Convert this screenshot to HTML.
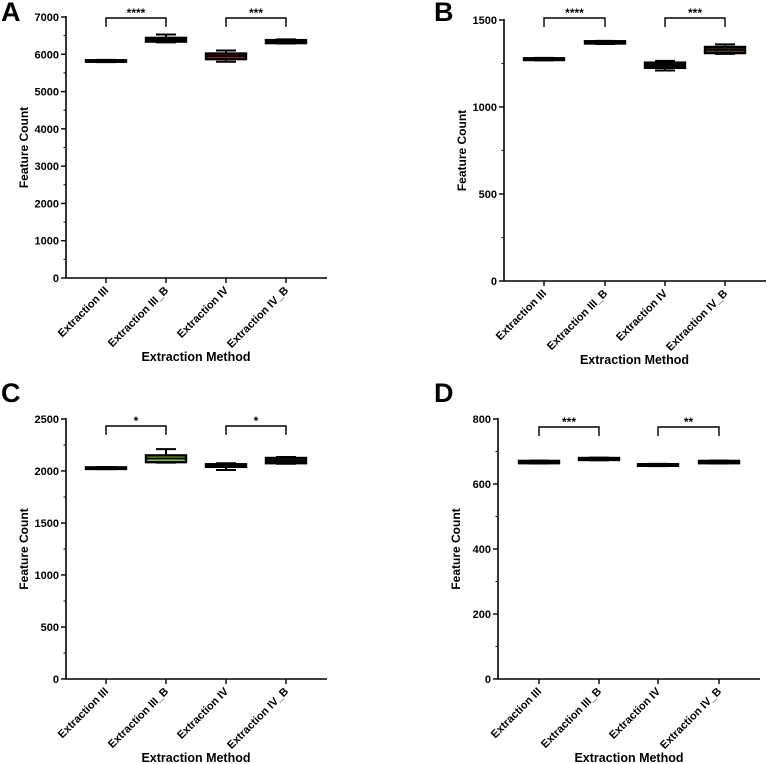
<!DOCTYPE html>
<html><head><meta charset="utf-8">
<style>
body{margin:0;background:#fff;}
svg{display:block;font-family:"Liberation Sans",Arial,sans-serif;font-weight:bold;}
</style></head>
<body>
<svg id="chart" width="767" height="764" viewBox="0 0 767 764"></svg>
<script>
const categories = ["Extraction III","Extraction III_B","Extraction IV","Extraction IV_B"];
// Panel A
const aMin=[5790,6320,5800,6290], aQ1=[5800,6340,5870,6300], aMed=[5820,6390,5950,6340], aQ3=[5840,6440,6020,6380], aMax=[5850,6530,6100,6400];
const aTicks=[0,1000,2000,3000,4000,5000,6000,7000];
const aSig=["****","***"];
// Panel B
const bMin=[1268,1362,1210,1305], bQ1=[1270,1365,1225,1310], bMed=[1275,1370,1240,1330], bQ3=[1280,1378,1255,1345], bMax=[1282,1380,1265,1360];
const bTicks=[0,500,1000,1500];
const bSig=["****","***"];
// Panel C
const cMin=[2018,2080,2010,2070], cQ1=[2020,2085,2040,2075], cMed=[2025,2120,2050,2100], cQ3=[2035,2150,2065,2125], cMax=[2038,2210,2075,2135];
const cTicks=[0,500,1000,1500,2000,2500];
const cSig=["*","*"];
// Panel D
const dMin=[663,673,655,663], dQ1=[664,674,656,664], dMed=[667,677,658,667], dQ3=[671,680,661,671], dMax=[672,681,662,672];
const dTicks=[0,200,400,600,800];
const dSig=["***","**"];

const NS="http://www.w3.org/2000/svg";
const svg=document.getElementById('chart');
function mk(tag,attrs,parent){const e=document.createElementNS(NS,tag);for(const k in attrs)e.setAttribute(k,attrs[k]);(parent||svg).appendChild(e);return e;}

function panel(p){
  const g=mk('g',{});
  
  
  const ymax=p.ticks[p.ticks.length-1];
  const y=v=>p.y1-(v/ymax)*(p.y1-p.y0);
  const x=i=>p.cx[i];
  const lt=mk('text',{x:p.lx,y:p.ly,'font-size':27,fill:'#000'},g);lt.textContent=p.letter;
  
  
  mk('line',{x1:p.ax,y1:p.y0-1,x2:p.ax,y2:p.y1,stroke:'#000','stroke-width':1.6},g);
  mk('line',{x1:p.ax,y1:p.y1,x2:p.xr,y2:p.y1,stroke:'#000','stroke-width':1.6},g);
  // minor ticks
  for(let v=0;v<=ymax;v+=p.minor){mk('line',{x1:p.ax-2.5,y1:y(v),x2:p.ax,y2:y(v),stroke:'#000','stroke-width':1},g);}
  p.ticks.forEach(v=>{
    mk('line',{x1:p.ax-5,y1:y(v),x2:p.ax,y2:y(v),stroke:'#000','stroke-width':1.4},g);
    const t=mk('text',{x:p.ax-7,y:y(v)+4,'font-size':11,'text-anchor':'end'},g);t.textContent=v;
    
    
  });
  const yt=mk('text',{transform:`translate(${p.ax-38},${(p.y0+p.y1)/2}) rotate(-90)`,'font-size':12,'text-anchor':'middle'},g);
  yt.textContent='Feature Count';
  
  
  categories.forEach((c,i)=>{
    mk('line',{x1:x(i),y1:p.y1,x2:x(i),y2:p.y1+5,stroke:'#000','stroke-width':1.4},g);
    const t=mk('text',{transform:`translate(${x(i)+3},${p.y1+13}) rotate(-45)`,'font-size':11,'text-anchor':'end'},g);
    t.textContent=c;
    
    
    // box
    const bg=mk('g',{},g);
    
    
    const w=20,cw=10;
    mk('line',{x1:x(i),y1:y(p.max[i]),x2:x(i),y2:y(p.min[i]),stroke:'#000','stroke-width':2},bg);
    mk('line',{x1:x(i)-cw,y1:y(p.max[i]),x2:x(i)+cw,y2:y(p.max[i]),stroke:'#000','stroke-width':2},bg);
    mk('line',{x1:x(i)-cw,y1:y(p.min[i]),x2:x(i)+cw,y2:y(p.min[i]),stroke:'#000','stroke-width':2},bg);
    const h=Math.max(y(p.q1[i])-y(p.q3[i]),0.5);
    mk('rect',{x:x(i)-w,y:y(p.q3[i]),width:2*w,height:h,fill:p.fill[i],stroke:'#000','stroke-width':2.4},bg);
    mk('line',{x1:x(i)-w,y1:y(p.med[i]),x2:x(i)+w,y2:y(p.med[i]),stroke:'#000','stroke-width':2},bg);
  });
  [[0,1],[2,3]].forEach((pr,k)=>{
    const b=mk('path',{d:`M${x(pr[0])},${p.by+9}V${p.by}H${x(pr[1])}V${p.by+9}`,fill:'none',stroke:'#000','stroke-width':1.4},g);
    
    
    const s=mk('text',{x:(x(pr[0])+x(pr[1]))/2,y:p.by-1,'font-size':12,'text-anchor':'middle'},g);
    s.textContent=p.sig[k];
    
    
  });
  const xt=mk('text',{x:(p.cx[0]+p.cx[3])/2,y:p.y1+83,'font-size':12.5,'text-anchor':'middle'},g);
  xt.textContent='Extraction Method';
  
  
}
panel({letter:'A',lx:1,ly:21,ax:66,y0:17,y1:278,xr:327,cx:[106,166,226,286],ticks:aTicks,minor:500,
  min:aMin,q1:aQ1,med:aMed,q3:aQ3,max:aMax,sig:aSig,by:18,fill:['#222','#3a4a38','#a33','#222']});
panel({letter:'B',lx:434,ly:21,ax:504,y0:20,y1:281,xr:766,cx:[544,605,665,725],ticks:bTicks,minor:250,
  min:bMin,q1:bQ1,med:bMed,q3:bQ3,max:bMax,sig:bSig,by:18,fill:['#222','#222','#2a1a1a','#5a4030']});
panel({letter:'C',lx:1,ly:402,ax:66,y0:419,y1:679,xr:327,cx:[106,166,226,286],ticks:cTicks,minor:250,
  min:cMin,q1:cQ1,med:cMed,q3:cQ3,max:cMax,sig:cSig,by:426,fill:['#222','#8fd43a','#222','#222']});
panel({letter:'D',lx:434,ly:402,ax:498,y0:419,y1:679,xr:760,cx:[539,599,658,719],ticks:dTicks,minor:100,
  min:dMin,q1:dQ1,med:dMed,q3:dQ3,max:dMax,sig:dSig,by:427,fill:['#222','#222','#222','#222']});
</script>
</body></html>
